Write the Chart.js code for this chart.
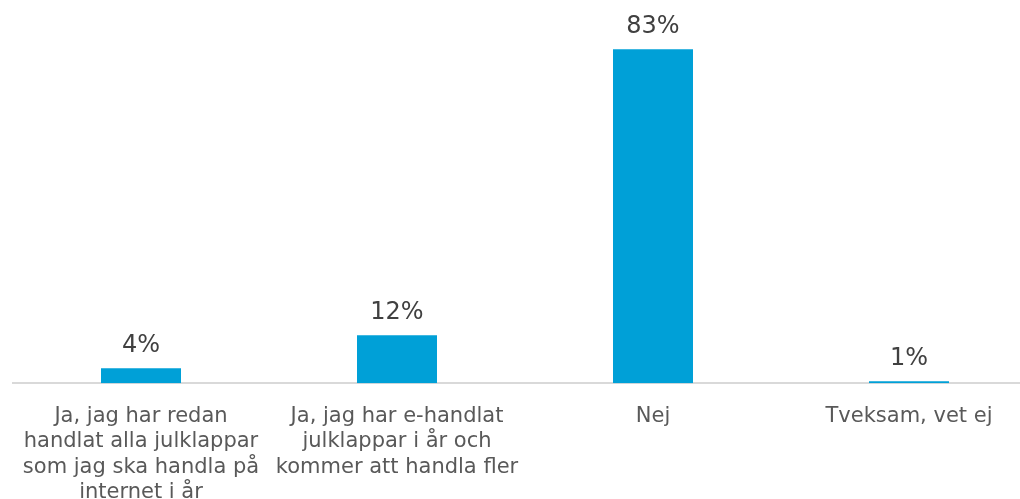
<!DOCTYPE html>
<html>
<head>
<meta charset="utf-8">
<script src="https://cdn.jsdelivr.net/npm/chart.js@4/dist/chart.umd.min.js"></script>
<style>
  html, body { margin: 0; padding: 0; overflow: hidden; background: #fff; }
  #wrap { width: 1040px; height: 526px; position: relative; }
</style>
</head>
<body>
<div id="wrap"><canvas id="julklappar"></canvas></div>
<script>
var categories = [
  ["Ja, jag har redan", "handlat alla julklappar", "som jag ska handla på", "internet i år"],
  ["Ja, jag har e-handlat", "julklappar i år och", "kommer att handla fler"],
  "Nej",
  "Tveksam, vet ej"
];
// bar heights, labels as printed
var values = [3.7, 11.9, 83, 0.5];
var valueLabels = ["4%", "12%", "83%", "1%"];

var barLabels = {
  id: 'barLabels',
  afterDatasetsDraw: function(chart) {
    var ctx = chart.ctx;
    var meta = chart.getDatasetMeta(0);
    ctx.save();
    ctx.font = "24px Verdana, 'DejaVu Sans'";
    ctx.fillStyle = "#404040";
    ctx.textAlign = "center";
    ctx.textBaseline = "alphabetic";
    meta.data.forEach(function(bar, i) {
      ctx.fillText(valueLabels[i], bar.x, bar.y - 16);
    });
    ctx.restore();
  }
};

new Chart(document.getElementById("julklappar"), {
  type: 'bar',
  data: {
    labels: categories,
    datasets: [
      {
        data: values,
        backgroundColor: "#00a0d7",
        barPercentage: 0.3125,
        categoryPercentage: 1
      }
    ]
  },
  options: {
    responsive: true,
    maintainAspectRatio: false,
    animation: false,
    layout: { padding: { left: 13, right: 3, top: 21, bottom: 0 } },
    plugins: {
      legend: { display: false },
      tooltip: { enabled: false }
    },
    scales: {
      x: {
        grid: { display: false, drawTicks: false },
        border: { display: true, color: "#d9d9d9", width: 2 },
        ticks: {
          color: "#595959",
          font: { family: "Verdana, 'DejaVu Sans'", size: 21, lineHeight: 1.2 },
          padding: 21,
          maxRotation: 0,
          autoSkip: false
        }
      },
      y: {
        display: false,
        min: 0,
        max: 90
      }
    }
  },
  plugins: [barLabels]
});
</script>
</body>
</html>
